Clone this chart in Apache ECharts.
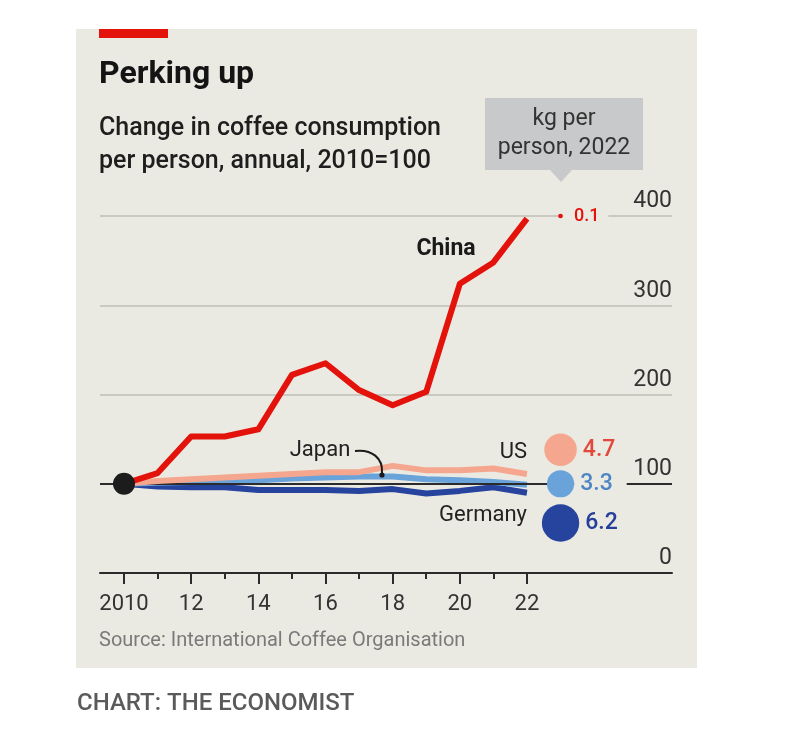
<!DOCTYPE html>
<html><head><meta charset="utf-8">
<script src="https://cdn.jsdelivr.net/npm/echarts@6/dist/echarts.min.js"></script>
<style>html,body{margin:0;padding:0;background:#fff;}#c{width:800px;height:747px;}</style>
</head><body><div id="c"></div>
<script>
// ---- data ----
const years = [2010,2011,2012,2013,2014,2015,2016,2017,2018,2019,2020,2021,2022];
const majorYears = [2010,2012,2014,2016,2018,2020,2022];
const minorYears = [2011,2013,2015,2017,2019,2021];
const yTicks = [0,100,200,300,400];
const china   = [100,112,153,153,161,222,235,205,188,203,324,348,397];
const us      = [100,103,105,107,109,111,113,113,120,115,115,117,111];
const japan   = [100,101,102,103,104,106,107,108,108,105,104,102,99];
const germany = [100,97,96,96,93,93,93,92,94,89,92,96,90];
const countries = ['China','US','Japan','Germany'];
const kg2022 = [0.1,4.7,3.3,6.2];

// ---- layout / style ----
const FONT = 'Roboto';
const PANEL = '#ebeae2';
const colors = {China:'#e3120b', US:'#f4a78e', Japan:'#6aa2da', Germany:'#26439e'};
const labelColors = {China:'#e3120b', US:'#e2493c', Japan:'#4d85c5', Germany:'#26409a'};
const bubbleRow = {China:400, US:138, Japan:100, Germany:56};
const bubbleX = 2023;

const pairs = arr => years.map((y,i)=>[y, arr[i]]);
const lineSeries = (name, arr, z) => ({
  type:'line', name, data: pairs(arr), showSymbol:false, z,
  lineStyle:{color:colors[name], width:6, cap:'butt', join:'round', opacity:1}, silent:true
});

const bubbleData = countries.map((c,i)=>{
  const lbl = {
    show:true, position:'right', distance:0,
    formatter: p => String(p.value[2]),
    color: labelColors[c], fontFamily: FONT, fontWeight:500, fontSize:23,
    padding:[0,0,0,6]
  };
  if (c === 'Japan') { lbl.backgroundColor = PANEL; lbl.padding = [3,14,3,6]; }
  if (c === 'China') { lbl.backgroundColor = PANEL; lbl.padding = [3,9,3,11]; lbl.fontSize = 18; }
  return { value:[bubbleX, bubbleRow[c], kg2022[i]], itemStyle:{color:colors[c], opacity:1}, label: lbl };
});

const chart = echarts.init(document.getElementById('c'), null, {renderer:'canvas'});
const option = {
  animation:false,
  backgroundColor:'#ffffff',
  grid:{left:100, right:128, top:216, bottom:174, containLabel:false},
  xAxis:[{
    type:'value', position:'bottom', min:2009.2853, max:2026.319,
    axisLine:{show:true, lineStyle:{color:'#2b2b2b', width:2}},
    axisTick:{show:true, customValues: majorYears, length:11, lineStyle:{color:'#2b2b2b', width:2}},
    axisLabel:{show:true, customValues: majorYears, margin:20,
      formatter: v => v === 2010 ? '2010' : String(v).slice(2),
      color:'#333', fontFamily:FONT, fontSize:22},
    splitLine:{show:false}
  },{
    type:'value', position:'bottom', offset:0, min:2009.2853, max:2026.319,
    axisLine:{show:false},
    axisTick:{show:true, customValues: minorYears, length:6, lineStyle:{color:'#2b2b2b', width:2}},
    axisLabel:{show:false}, splitLine:{show:false}
  }],
  yAxis:{
    type:'value', position:'right', min:0, max:400, interval:100,
    axisLine:{show:false}, axisTick:{show:false},
    axisLabel:{show:true, inside:true, margin:0, align:'right', verticalAlign:'bottom',
      padding:[0,0,3,0], color:'#333', fontFamily:FONT, fontSize:23,
      customValues: yTicks},
    splitLine:{show:true, lineStyle:{color:'#c9c8c1', width:2}}
  },
  series:[
    {type:'line', data:[], z:1, silent:true,
     markLine:{silent:true, symbol:'none', label:{show:false},
       lineStyle:{color:'#2b2b2b', width:2, type:'solid'}, data:[{yAxis:100}]}},
    lineSeries('Germany', germany, 3),
    lineSeries('Japan', japan, 4),
    lineSeries('US', us, 5),
    lineSeries('China', china, 6),
    {type:'scatter', z:8, silent:true, data:[[years[0], china[0]]],
     symbolSize:22, itemStyle:{color:'#1c1c1c', opacity:1}},
    {type:'scatter', z:8, silent:true, data: bubbleData,
     symbolSize: v => 15*Math.sqrt(v[2])}
  ],
  graphic:[
    {type:'rect', z:-100, shape:{x:76, y:29, width:621, height:639}, style:{fill:PANEL}, silent:true},
    {type:'rect', z:1, shape:{x:99, y:29, width:69, height:9}, style:{fill:'#e3120b'}},
    {type:'text', z:1, x:99, y:59, style:{text:'Perking up', fill:'#141414', font:'bold 32px '+FONT}},
    {type:'text', z:1, x:99, y:112, style:{text:'Change in coffee consumption\nper person, annual, 2010=100',
      fill:'#1e1e1e', font:'500 25px '+FONT, lineHeight:33}},
    {type:'rect', z:1, shape:{x:485, y:98, width:158, height:72}, style:{fill:'#c8c9ca'}},
    {type:'polygon', z:1, shape:{points:[[550,170],[572,170],[561,182]]}, style:{fill:'#c8c9ca'}},
    {type:'text', z:2, x:564, y:134, style:{text:'kg per\nperson, 2022', fill:'#333',
      font:'23px '+FONT, lineHeight:29, align:'center', verticalAlign:'middle'}},
    {type:'text', z:10, x:446, y:249, style:{text:'China', fill:'#1a1a1a', font:'bold 23px '+FONT,
      align:'center', verticalAlign:'middle'}},
    {type:'text', z:10, x:320, y:450, style:{text:'Japan', fill:'#222', font:'22px '+FONT,
      align:'center', verticalAlign:'middle'}},
    {type:'bezierCurve', z:10, shape:{x1:355, y1:451, cpx1:372, cpy1:449, cpx2:383, cpy2:458, x2:382, y2:473},
      style:{stroke:'#1a1a1a', lineWidth:2, fill:null}},
    {type:'circle', z:10, shape:{cx:382, cy:475, r:2.6}, style:{fill:'#1a1a1a'}},
    {type:'text', z:10, x:527, y:452, style:{text:'US', fill:'#222', font:'22px '+FONT,
      align:'right', verticalAlign:'middle'}},
    {type:'text', z:10, x:527, y:515, style:{text:'Germany', fill:'#222', font:'22px '+FONT,
      align:'right', verticalAlign:'middle'}},
    {type:'text', z:1, x:99, y:641, style:{text:'Source: International Coffee Organisation', fill:'#7a7a7a',
      font:'20px '+FONT, verticalAlign:'middle'}},
    {type:'text', z:1, x:77, y:704, style:{text:'CHART: THE ECONOMIST', fill:'#5a5a5a',
      font:'500 24px '+FONT, verticalAlign:'middle'}}
  ]
};
chart.setOption(option);
</script>
</body></html>
